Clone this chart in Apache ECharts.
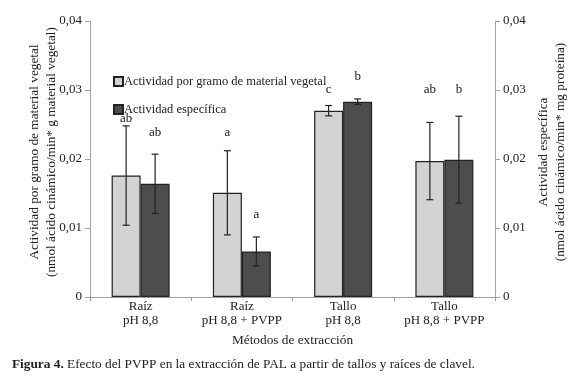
<!DOCTYPE html>
<html>
<head>
<meta charset="utf-8">
<script src="https://cdn.jsdelivr.net/npm/echarts@6/dist/echarts.min.js"></script>
<style>
  html, body { margin: 0; padding: 0; background: #fff; }
  #chart { width: 580px; height: 379px; }
</style>
</head>
<body>
<div id="chart"></div>
<script>
const categories = ["Raíz\npH 8,8", "Raíz\npH 8,8 + PVPP", "Tallo\npH 8,8", "Tallo\npH 8,8 + PVPP"];
const seriesNames = ["Actividad por gramo de material vegetal", "Actividad específica"];

// Actividad por gramo de material vegetal
const porGramo = [0.0176, 0.0151, 0.0270, 0.0197];
const porGramoErr = [0.0072, 0.0061, 0.00075, 0.0056];
const porGramoLetters = ["ab", "a", "c", "ab"];
const porGramoLetterY = [0.0259, 0.0239, 0.0300, 0.0300];

// Actividad específica
const especifica = [0.0164, 0.0066, 0.0283, 0.0199];
const especificaErr = [0.0043, 0.0021, 0.0004, 0.0063];
const especificaLetters = ["ab", "a", "b", "b"];
const especificaLetterY = [0.0239, 0.0120, 0.0320, 0.0300];

const yTicks = [0, 0.01, 0.02, 0.03, 0.04];

const FONT = "Liberation Serif";
const TEXT = "#222";
const AXIS = "#a0a0a0";
const BAR_W = 29;

const fmt = v => (v === 0 ? "0" : v.toFixed(2).replace(".", ","));

const chart = echarts.init(document.getElementById("chart"));

// error bars + significance letters, shifted left/right of category centre
function errRender(values, errs, letters, letterY, shift) {
  return function (params, api) {
    const i = params.dataIndex;
    const hi = api.coord([i, values[i] + errs[i]]);
    const lo = api.coord([i, values[i] - errs[i]]);
    const lt = api.coord([i, letterY[i]]);
    const x = hi[0] + shift;
    const cap = 3.5;
    const st = { stroke: TEXT, lineWidth: 1.2 };
    return {
      type: "group",
      children: [
        { type: "line", shape: { x1: x, y1: hi[1], x2: x, y2: lo[1] }, style: st },
        { type: "line", shape: { x1: x - cap, y1: hi[1], x2: x + cap, y2: hi[1] }, style: st },
        { type: "line", shape: { x1: x - cap, y1: lo[1], x2: x + cap, y2: lo[1] }, style: st },
        {
          type: "text",
          style: {
            x: x, y: lt[1], text: letters[i],
            fill: TEXT, font: "13px '" + FONT + "'",
            align: "center", verticalAlign: "middle"
          }
        }
      ]
    };
  };
}

const yAxisBase = {
  type: "value",
  min: 0,
  max: 0.04,
  interval: 0.01,
  nameLocation: "middle",
  nameMoveOverlap: false,
  nameTextStyle: { fontFamily: FONT, fontSize: 13.3, color: TEXT, lineHeight: 17, padding: [0, 0, 0, 14] },
  axisLine: { show: true, lineStyle: { color: AXIS } },
  axisTick: { show: true, length: 5, lineStyle: { color: AXIS } },
  splitLine: { show: false },
  axisLabel: { fontFamily: FONT, fontSize: 13, color: TEXT, formatter: fmt, margin: 8 }
};

const option = {
  animation: false,
  backgroundColor: "#fff",
  title: {
    left: 7,
    top: 353,
    text: "{b|Figura 4.} Efecto del PVPP en la extracción de PAL a partir de tallos y raíces de clavel.",
    textStyle: {
      fontFamily: FONT, fontSize: 13.3, fontWeight: "normal", color: TEXT,
      rich: { b: { fontFamily: FONT, fontSize: 13.3, fontWeight: "bold", color: TEXT } }
    }
  },
  legend: {
    orient: "vertical",
    left: 108,
    top: 70,
    itemWidth: 9,
    itemHeight: 9,
    itemGap: 15,
    icon: "rect",
    data: seriesNames,
    textStyle: { fontFamily: FONT, fontSize: 12.5, color: TEXT, padding: [0, 0, 0, -4] }
  },
  grid: { left: 90, right: 85, top: 21, bottom: 82 },
  xAxis: {
    type: "category",
    data: categories,
    name: "Métodos de extracción",
    nameLocation: "middle",
    nameGap: 37,
    nameMoveOverlap: false,
    nameTextStyle: { fontFamily: FONT, fontSize: 13.3, color: TEXT },
    axisLine: { lineStyle: { color: AXIS } },
    axisTick: { show: true, length: 4, lineStyle: { color: AXIS } },
    axisLabel: { interval: 0, fontFamily: FONT, fontSize: 13, color: TEXT, lineHeight: 14, margin: 3 }
  },
  yAxis: [
    Object.assign({}, yAxisBase, {
      position: "left",
      name: "Actividad por gramo de material vegetal\n(nmol ácido cinámico/min* g material vegetal)",
      nameGap: 30
    }),
    Object.assign({}, yAxisBase, {
      position: "right",
      name: "Actividad específica\n(nmol ácido cinámico/min* mg proteína)",
      nameGap: 40
    })
  ],
  series: [
    {
      name: seriesNames[0],
      type: "bar",
      barWidth: BAR_W,
      barGap: "0%",
      data: porGramo,
      itemStyle: { color: "#d3d3d3", borderColor: TEXT, borderWidth: 1.2 }
    },
    {
      name: seriesNames[1],
      type: "bar",
      yAxisIndex: 1,
      barWidth: BAR_W,
      barGap: "0%",
      data: especifica,
      itemStyle: { color: "#4d4d4d", borderColor: TEXT, borderWidth: 1.2 }
    },
    {
      type: "custom",
      data: porGramo.map((v, i) => [i, v]),
      renderItem: errRender(porGramo, porGramoErr, porGramoLetters, porGramoLetterY, -BAR_W / 2),
      z: 5
    },
    {
      type: "custom",
      yAxisIndex: 1,
      data: especifica.map((v, i) => [i, v]),
      renderItem: errRender(especifica, especificaErr, especificaLetters, especificaLetterY, BAR_W / 2),
      z: 5
    }
  ]
};

chart.setOption(option);
</script>
</body>
</html>
